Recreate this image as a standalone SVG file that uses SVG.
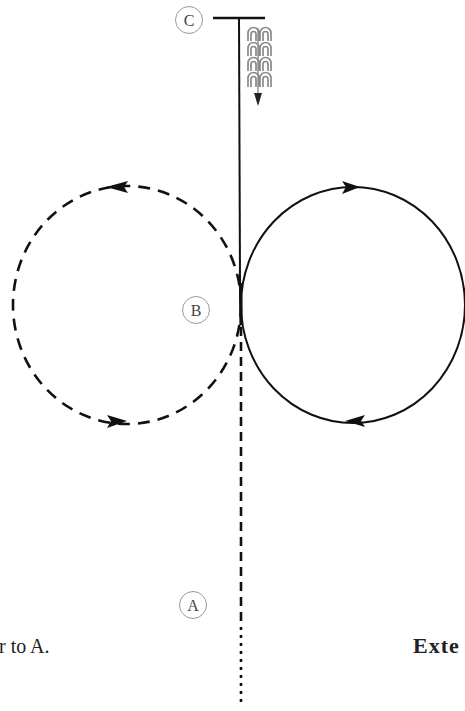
<svg xmlns="http://www.w3.org/2000/svg" width="465" height="711" viewBox="0 0 465 711">
<style>
.lbl{fill:#fff;stroke:#9a9a9a;stroke-width:1}
.lt{font-family:"Liberation Serif",serif;font-size:16px;fill:#444;text-anchor:middle}
.cap{font-family:"Liberation Serif",serif;font-size:20px;fill:#222}
.capb{font-size:22px;font-weight:bold;letter-spacing:1px}
.wave{fill:none;stroke:#8a8a8a;stroke-width:1.7}
.ah{fill:#111}
</style>
<rect width="465" height="711" fill="#fff"/>
<g id="connectors">
  <line x1="213" y1="18" x2="265" y2="18" stroke="#111" stroke-width="2.6"/>
  <line x1="239" y1="18" x2="240" y2="283" stroke="#111" stroke-width="2"/>
  <line x1="240.5" y1="283" x2="241" y2="325" stroke="#111" stroke-width="3.2"/>
  <line x1="241" y1="327" x2="241" y2="622" stroke="#111" stroke-width="2.6" stroke-dasharray="9 6"/>
  <line x1="241" y1="627" x2="241" y2="706" stroke="#111" stroke-width="2.6" stroke-dasharray="3 5"/>
  <ellipse cx="127" cy="305" rx="114" ry="119" fill="none" stroke="#111" stroke-width="2.6" stroke-dasharray="12 8"/>
  <ellipse cx="353" cy="305" rx="112" ry="118" fill="none" stroke="#111" stroke-width="2"/>
  <path class="ah" d="M106,187 L128,181 L124,187 L128,193 Z"/>
  <path class="ah" d="M127,421 L107,415 L111,421 L107,428 Z"/>
  <path class="ah" d="M360,187 L342,181 L346,187 L342,194 Z"/>
  <path class="ah" d="M345,421 L365,415 L361,421 L365,427 Z"/>
</g>
<g id="flow">
  <line x1="258" y1="28" x2="258" y2="96" stroke="#8a8a8a" stroke-width="1.4"/>
  <g class="wave">
    <path d="M248,41 V33 a5.5,5.5 0 0 1 11,0 V41 M251,41 V34 a2.5,2.5 0 0 1 5,0 V41 M260,41 V33 a5.5,5.5 0 0 1 11,0 V41 M263,41 V34 a2.5,2.5 0 0 1 5,0 V41"/>
    <path d="M248,56 V48 a5.5,5.5 0 0 1 11,0 V56 M251,56 V49 a2.5,2.5 0 0 1 5,0 V56 M260,56 V48 a5.5,5.5 0 0 1 11,0 V56 M263,56 V49 a2.5,2.5 0 0 1 5,0 V56"/>
    <path d="M248,71 V63 a5.5,5.5 0 0 1 11,0 V71 M251,71 V64 a2.5,2.5 0 0 1 5,0 V71 M260,71 V63 a5.5,5.5 0 0 1 11,0 V71 M263,71 V64 a2.5,2.5 0 0 1 5,0 V71"/>
    <path d="M248,87 V78 a5.5,5.5 0 0 1 11,0 V87 M251,87 V79 a2.5,2.5 0 0 1 5,0 V87 M260,87 V78 a5.5,5.5 0 0 1 11,0 V87 M263,87 V79 a2.5,2.5 0 0 1 5,0 V87"/>
  </g>
  <path d="M254,93 L262,93 L258,106 Z" fill="#222"/>
</g>
<g id="nodeC"><circle class="lbl" cx="189" cy="20" r="13.5"/><text class="lt" x="189" y="25.5">C</text></g>
<g id="nodeB"><circle class="lbl" cx="196" cy="310" r="13.5"/><text class="lt" x="196" y="315.5">B</text></g>
<g id="nodeA"><circle class="lbl" cx="193" cy="605" r="13.5"/><text class="lt" x="193" y="610.5">A</text></g>
<g id="captions">
  <text class="cap" x="-1" y="653">r to A.</text>
  <text class="cap capb" x="413" y="653">Exte</text>
</g>
</svg>
